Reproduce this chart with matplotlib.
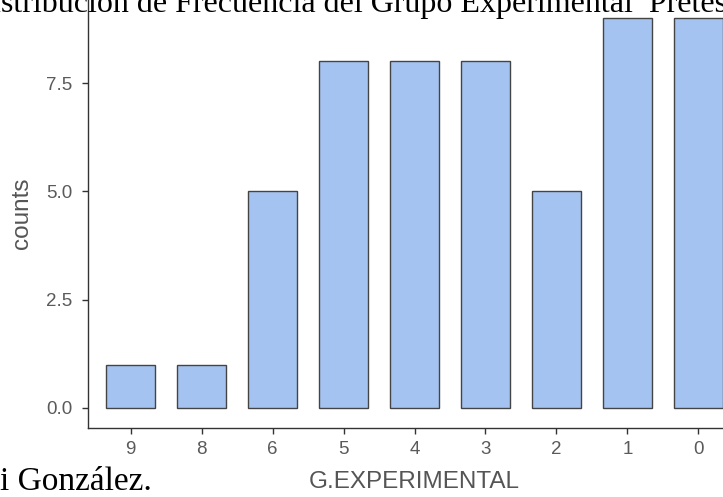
import numpy as np
import matplotlib
matplotlib.use("Agg")
import matplotlib.pyplot as plt

# Data
categories = ['9', '8', '6', '5', '4', '3', '2', '1', '0']
counts = [1, 1, 5, 8, 8, 8, 5, 9, 9]
y_ticks = [0, 2.5, 5.0, 7.5]

title_text = 'Distribución de Frecuencia del Grupo Experimental  Pretest'
note_text = 'i González.'

fig = plt.figure(figsize=(7.23, 4.97), dpi=100)
# axes run past the right edge, as in the cropped screenshot
ax = fig.add_axes([88 / 723, 69.5 / 497, 653 / 723, 429 / 497])

x = np.arange(len(categories))
ax.bar(x, counts, width=0.7, color='#a4c3f0', edgecolor='#444444', linewidth=1.0)

ax.set_xlim(-0.6, len(categories) - 0.4)
ax.set_ylim(-0.45, 9.45)
ax.set_xticks(x)
ax.set_xticklabels(categories)
ax.set_yticks(y_ticks)
ax.set_yticklabels([f'{v:.1f}' for v in y_ticks])

for side in ['top', 'right']:
    ax.spines[side].set_visible(False)
for side in ['left', 'bottom']:
    ax.spines[side].set_color('#333333')
    ax.spines[side].set_linewidth(1.0)

ax.tick_params(axis='both', colors='#333333', length=4, width=1.0,
               labelsize=13.5, labelcolor='#5a5a5a')
ax.tick_params(axis='x', pad=6)
ax.tick_params(axis='y', pad=7)
for lbl in ax.get_xticklabels() + ax.get_yticklabels():
    lbl.set_family('Liberation Sans')

ax.set_xlabel('G.EXPERIMENTAL', fontsize=17.5, color='#555555',
              family='Liberation Sans', labelpad=9)
ax.set_ylabel('counts', fontsize=17.5, color='#555555',
              family='Liberation Sans', labelpad=10)

# surrounding document text, partly cut off by the crop
fig.text(-0.043, 0.976, title_text, ha='left', va='baseline',
         fontsize=23, family='Liberation Serif', color='black')
fig.text(0.0, 0.014, note_text, ha='left', va='baseline',
         fontsize=24, family='Liberation Serif', color='black')

fig.savefig('out.png', dpi=100)
